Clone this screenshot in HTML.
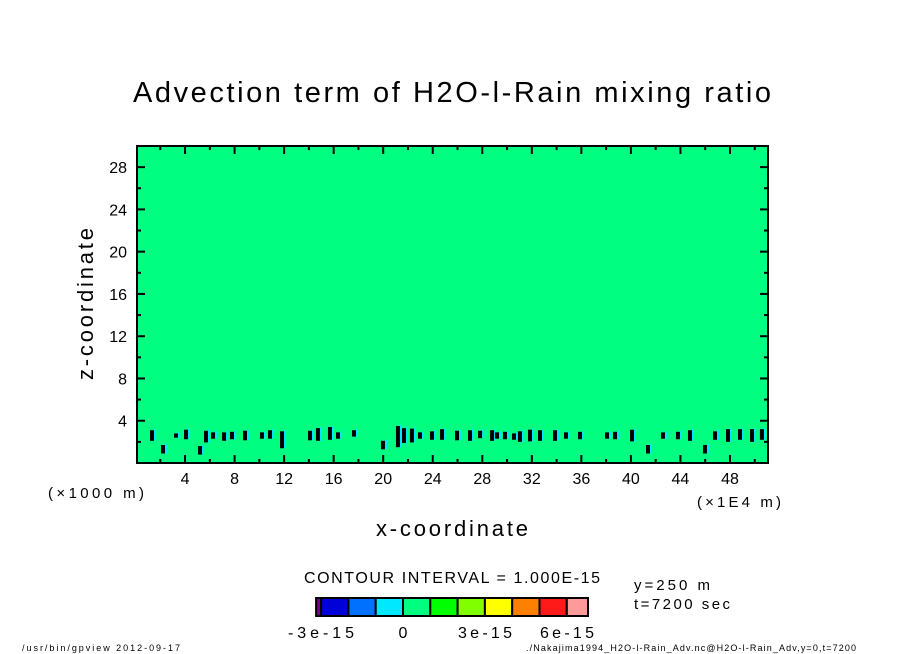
<!DOCTYPE html>
<html><head><meta charset="utf-8"><style>
body{margin:0;background:#fff;}
svg{display:block;font-family:"Liberation Sans",sans-serif;}
</style></head><body>
<svg id="c" width="904" height="654">
<text x="452" y="102" font-size="29" text-anchor="middle" textLength="638">Advection term of H2O-l-Rain mixing ratio</text>
<rect x="137" y="146" width="631" height="317" fill="#00ff80"/>
<g id="blobs"></g>
<rect x="137" y="146" width="631" height="317" fill="none" stroke="#000" stroke-width="2"/>
<g id="ticks"></g>
<text x="48" y="498" font-size="15" textLength="96">(×1000 m)</text>
<text x="697" y="507" font-size="15" textLength="84">(×1E4 m)</text>
<text x="452" y="536" font-size="22" text-anchor="middle" textLength="152">x-coordinate</text>
<text x="0" y="0" font-size="22" text-anchor="middle" textLength="152" transform="translate(93,304) rotate(-90)">z-coordinate</text>
<text x="452" y="583" font-size="16" text-anchor="middle" textLength="296">CONTOUR INTERVAL = 1.000E-15</text>
<text x="634" y="590" font-size="15" textLength="76">y=250 m</text>
<text x="634" y="609" font-size="15" textLength="96">t=7200 sec</text>
<g id="cbar"></g>
<text x="321" y="638" font-size="16" text-anchor="middle" textLength="66">-3e-15</text>
<text x="403" y="638" font-size="16" text-anchor="middle">0</text>
<text x="485" y="638" font-size="16" text-anchor="middle" textLength="54">3e-15</text>
<text x="567" y="638" font-size="16" text-anchor="middle" textLength="54">6e-15</text>
<text x="22" y="651" font-size="9" textLength="158">/usr/bin/gpview  2012-09-17</text>
<text x="856" y="651" font-size="9" text-anchor="end" textLength="330">./Nakajima1994_H2O-l-Rain_Adv.nc@H2O-l-Rain_Adv,y=0,t=7200</text>
</svg>
<script>
const xTicks=[4,8,12,16,20,24,28,32,36,40,44,48];
const yTicks=[4,8,12,16,20,24,28];
const blobX=[1.33,2.22,3.27,4.08,5.21,5.69,6.26,7.15,7.79,8.84,10.21,10.86,11.83,14.09,14.73,15.70,16.35,17.64,19.98,21.19,21.68,22.32,22.97,23.94,24.75,25.96,27.01,27.82,28.79,29.19,29.83,30.56,31.04,31.85,32.66,33.87,34.76,35.89,38.07,38.72,40.09,41.38,42.59,43.80,44.77,45.98,46.79,47.84,48.81,49.78,50.58];
const blobZ=[2.6,1.3,2.6,2.7,1.2,2.5,2.6,2.5,2.6,2.6,2.6,2.7,2.2,2.6,2.7,2.8,2.6,2.8,1.7,2.5,2.6,2.6,2.6,2.6,2.7,2.6,2.6,2.7,2.6,2.6,2.6,2.5,2.5,2.6,2.6,2.6,2.6,2.6,2.6,2.6,2.6,1.3,2.6,2.6,2.6,1.3,2.6,2.6,2.7,2.6,2.7];
const blobH=[1.0,0.8,0.4,0.9,0.8,1.1,0.6,0.8,0.7,0.9,0.6,0.8,1.6,0.9,1.2,1.2,0.6,0.6,0.8,2.0,1.4,1.3,0.6,0.8,1.0,0.9,1.0,0.7,1.0,0.6,0.7,0.6,1.0,1.1,1.0,1.0,0.6,0.7,0.6,0.7,1.1,0.8,0.6,0.7,1.0,0.8,0.8,1.2,1.0,1.2,1.0];
const cbColors=["#7000a0","#0000d8","#0070ff","#00e8ff","#00ff80","#00ff00","#80ff00","#ffff00","#ff8000","#ff1a1a","#ff9a9a"];
const cbLevels=[-4,-3,-2,-1,0,1,2,3,4,5,6,7];
const X0=0.12,X1=51.07,Y0=0,Y1=30;
const sx=v=>137+(v-X0)/(X1-X0)*631;
const sy=v=>463-(v-Y0)/(Y1-Y0)*317;
const NS="http://www.w3.org/2000/svg";
function mk(tag,attrs,parent){const e=document.createElementNS(NS,tag);for(const k in attrs)e.setAttribute(k,attrs[k]);parent.appendChild(e);return e;}
const svg=document.getElementById('c');
const tg=document.getElementById('ticks');
for(let v=2;v<=50;v+=2){const big=v%4===0;const x=sx(v);
const t1=mk('line',{x1:x,x2:x,y1:463,y2:big?455:459,stroke:'#000','stroke-width':2},tg);


const t2=mk('line',{x1:x,x2:x,y1:146,y2:big?154:150,stroke:'#000','stroke-width':2},tg);

}
for(let v=2;v<=30;v+=2){const big=v%4===0;const y=sy(v);
const t1=mk('line',{x1:137,x2:big?145:141,y1:y,y2:y,stroke:'#000','stroke-width':2},tg);


const t2=mk('line',{x1:768,x2:big?760:764,y1:y,y2:y,stroke:'#000','stroke-width':2},tg);

}
xTicks.forEach(v=>{const t=mk('text',{x:sx(v),y:484,'font-size':16,'text-anchor':'middle'},svg);t.textContent=v;

});
yTicks.forEach(v=>{const t=mk('text',{x:127,y:sy(v)+6,'font-size':16,'text-anchor':'end'},svg);t.textContent=v;

});
const bg=document.getElementById('blobs');
blobX.forEach((v,i)=>{const x=sx(v),yc=sy(blobZ[i]),h=blobH[i]*10.6;
const c=mk('rect',{x:x+2,y:yc-h/2-1,width:2,height:h+1,fill:'#00e8ff'},bg);


const r=mk('rect',{x:x-2,y:yc-h/2,width:4,height:h,fill:'#000'},bg);

});
const cb=document.getElementById('cbar');
const cx=v=>403+v*27.3;
cbColors.forEach((col,i)=>{let x0=cx(cbLevels[i]),x1=cx(cbLevels[i+1]);if(i===0)x0=cx(-3)-5;if(i===cbColors.length-1)x1=588;
const r=mk('rect',{x:x0,y:598,width:x1-x0,height:18,fill:col,stroke:'#000','stroke-width':2},cb);

});
</script>
</body></html>
